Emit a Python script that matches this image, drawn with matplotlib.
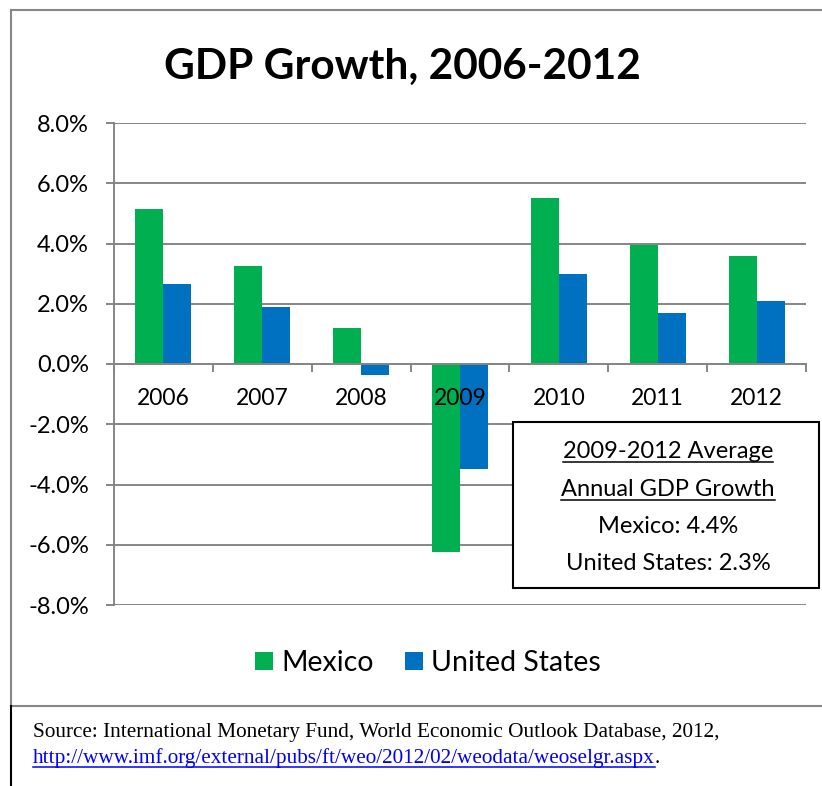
import matplotlib
matplotlib.use("Agg")
import matplotlib.pyplot as plt
from matplotlib.lines import Line2D
from matplotlib.patches import Rectangle
import numpy as np

# data
years = ["2006", "2007", "2008", "2009", "2010", "2011", "2012"]
mexico = [5.15, 3.25, 1.2, -6.25, 5.5, 3.95, 3.6]
united_states = [2.65, 1.9, -0.35, -3.5, 3.0, 1.7, 2.1]
y_ticks = [-8, -6, -4, -2, 0, 2, 4, 6, 8]

title = "GDP Growth, 2006-2012"
box_lines = ["2009-2012 Average", "Annual GDP Growth", "Mexico: 4.4%", "United States: 2.3%"]
source_text = "Source: International Monetary Fund, World Economic Outlook Database, 2012,"
source_url = "http://www.imf.org/external/pubs/ft/weo/2012/02/weodata/weoselgr.aspx"

GREEN = "#00B050"
BLUE = "#0070C0"
GRID = "#868686"

plt.rcParams["font.family"] = ["Lato", "DejaVu Sans"]

W, H = 822, 786
fig = plt.figure(figsize=(W / 100, H / 100), dpi=100)


def fx(px):
    return px / W


def fy(py):
    return 1 - py / H


ax = fig.add_axes([fx(114), fy(605), fx(806) - fx(114), fy(123) - fy(605)])
x = np.arange(len(years))
w = 0.283
# bars at zorder 1 so the year labels (axis, zorder 1.5) sit on top of them
ax.bar(x - w / 2, mexico, w, color=GREEN, label="Mexico", zorder=1)
ax.bar(x + w / 2, united_states, w, color=BLUE, label="United States", zorder=1)
ax.set_xlim(-0.5, len(years) - 0.5)
ax.set_ylim(y_ticks[0], y_ticks[-1])

for v in y_ticks:
    ax.axhline(v, color=GRID, lw=1.4, zorder=0.5)

ax.set_yticks(y_ticks)
ax.set_yticklabels([f"{v:.1f}%" for v in y_ticks])
ax.tick_params(axis="y", length=6, width=1.4, color=GRID, pad=12, labelsize=17)

ax.set_xticks(x)
ax.set_xticklabels(years)
ax.set_xticks(np.arange(len(years) + 1) - 0.5, minor=True)
ax.tick_params(axis="x", which="major", length=0, pad=17, labelsize=16.5)
ax.tick_params(axis="x", which="minor", length=6, width=1.4, color=GRID, direction="out")

for s in ["top", "right"]:
    ax.spines[s].set_visible(False)
ax.spines["left"].set_color(GRID)
ax.spines["left"].set_linewidth(1.4)
ax.spines["bottom"].set_position(("data", 0))
ax.spines["bottom"].set_color(GRID)
ax.spines["bottom"].set_linewidth(1.4)

fig.text(fx(402), fy(79), title, ha="center", va="baseline",
         fontsize=30.5, fontweight="bold")

fig.legend(loc="center", bbox_to_anchor=(fx(428), fy(663)), ncol=2, frameon=False,
           fontsize=20.5, handlelength=0.62, handleheight=0.62,
           handletextpad=0.3, columnspacing=1.1)

# outer frame of the chart
fig.add_artist(Line2D([fx(11), fx(822)], [fy(10), fy(10)], color=GRID, lw=1.5))
fig.add_artist(Line2D([fx(11), fx(11)], [fy(10), fy(706)], color=GRID, lw=1.5))
fig.add_artist(Line2D([fx(11), fx(822)], [fy(706), fy(706)], color=GRID, lw=1.5))
fig.add_artist(Line2D([fx(11), fx(11)], [fy(706), fy(786)], color="black", lw=1.5))

# annotation box
fig.add_artist(Rectangle((fx(513), fy(588)), fx(819) - fx(513), fy(422) - fy(588),
                         transform=fig.transFigure, facecolor="white",
                         edgecolor="black", lw=1.5, zorder=5))
box_base = [458, 496, 533, 570]
box_texts = []
for line, yb in zip(box_lines, box_base):
    box_texts.append(fig.text(fx(668), fy(yb), line, ha="center", va="baseline",
                              fontsize=17, zorder=6))

src = fig.text(fx(33), fy(737), source_text, ha="left", va="baseline",
               fontsize=15.3, family="Liberation Serif")
url = fig.text(fx(33), fy(763), source_url, ha="left", va="baseline",
               fontsize=15.3, family="Liberation Serif", color="#0000FF")

fig.canvas.draw()
renderer = fig.canvas.get_renderer()


def underline(t, base_px, color):
    bb = t.get_window_extent(renderer)
    fig.add_artist(Line2D([bb.x0 / W, bb.x1 / W], [fy(base_px + 4), fy(base_px + 4)],
                          color=color, lw=1.1, zorder=6))


underline(box_texts[0], box_base[0], "black")
underline(box_texts[1], box_base[1], "black")
underline(url, 763, "#0000FF")
ubb = url.get_window_extent(renderer)
fig.text(ubb.x1 / W, fy(763), ".", ha="left", va="baseline",
         fontsize=15.3, family="Liberation Serif")

fig.savefig("out.png", dpi=100)
